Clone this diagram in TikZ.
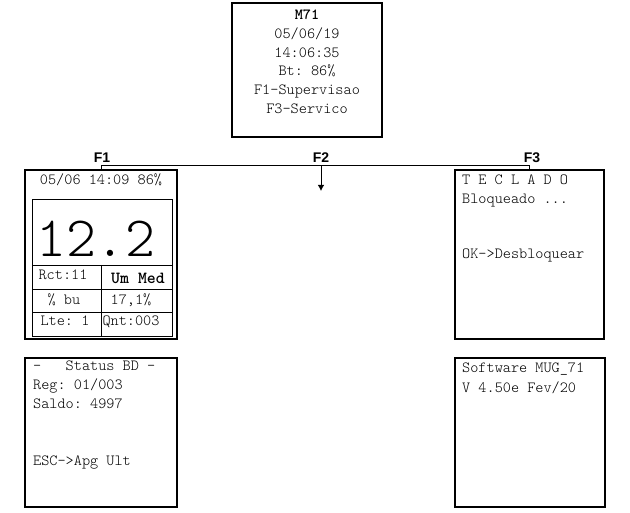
\documentclass[tikz,border=0pt]{standalone}
\usepackage{fontspec}
\setmainfont{Liberation Serif}
\setmonofont{Latin Modern Mono Light}
\setsansfont{Liberation Sans}
\usetikzlibrary{arrows.meta}
\begin{document}
\begin{tikzpicture}[x=1pt,y=-1pt,
  box/.style={draw,line width=1.2pt,inner sep=0,outer sep=0},
  thin/.style={line width=0.9pt},
  tt/.style={inner sep=0,anchor=base,font=\ttfamily\fontsize{15.5}{16}\selectfont},
  ttl/.style={tt,anchor=base west},
  ttb/.style={tt,font=\ttfamily\bfseries\fontsize{15.5}{16}\selectfont},
  ttbig/.style={tt,font=\ttfamily\bfseries\fontsize{17}{18}\selectfont},
  big/.style={inner sep=0,anchor=base,font=\ttfamily\fontsize{57}{57}\selectfont},
  key/.style={inner sep=0,font=\sffamily\bfseries\fontsize{14}{16}\selectfont},
  conn/.style={line width=0.9pt}]
\useasboundingbox (0,0) rectangle (630,513);

% boxes
\node[box,minimum width=150,minimum height=134] (m71) at (307,70) {};
\node[box,minimum width=152,minimum height=169] (f1) at (101,254.5) {};
\node[box,minimum width=149,minimum height=169] (f3) at (529.5,254.5) {};
\node[box,minimum width=152,minimum height=149] (bd) at (101,432.5) {};
\node[box,minimum width=150,minimum height=149] (sw) at (530,432.5) {};
\node[draw,thin,inner sep=0,outer sep=0,minimum width=140,minimum height=137] (inner) at (102,267.5) {};

% inner grid
\draw[thin] (32,265) -- (172,265);
\draw[thin] (32,289) -- (172,289);
\draw[thin] (32,312) -- (172,312);
\draw[thin] (101,265) -- (101,336);

% top box text
\node[ttb] (t1) at (307,19.5) {M71};
\node[tt] (t2) at (307,38.5) {05/06/19};
\node[tt] (t3) at (307,57.5) {14:06:35};
\node[tt] (t4) at (307,76) {Bt: 86\%};
\node[tt] (t5) at (307,94.5) {F1-Supervisao};
\node[tt] (t6) at (307,113.5) {F3-Servico};

% F1 box
\node[tt] (h1) at (101,184.5) {05/06 14:09 86\%};
\node[big] (num) at (96,257) {12.2};
\node[tt] (c11) at (63,280) {Rct:11};
\node[ttbig] (c12) at (138,284) {Um Med};
\node[tt] (c21) at (64,305) {\% bu};
\node[tt] (c22) at (131,305) {17,1\%};
\node[tt] (c31) at (65,326) {Lte: 1};
\node[tt] (c32) at (131,326) {Qnt:003};

% F3 box
\node[ttl] (k1) at (462,185) {T E C L A D O};
\node[ttl] (k2) at (462,203.5) {Bloqueado ...};
\node[ttl] (k3) at (462,259) {OK->Desbloquear};

% status box
\node[ttl] (s1) at (33,371) {-\ \ \ Status BD -};
\node[ttl] (s2) at (33,390) {Reg: 01/003};
\node[ttl] (s3) at (33,409) {Saldo: 4997};
\node[ttl] (s4) at (33,465) {ESC->Apg Ult};

% software box
\node[ttl] (w1) at (462,373) {Software MUG\_71};
\node[ttl] (w2) at (462,392) {V 4.50e Fev/20};

% connectors
\coordinate (j1) at (101,165.5);
\coordinate (f2a) at (321,165.5);
\coordinate (f2b) at (321,191);
\draw[conn] (f1.north) -- (j1) -| (f3.north);
\draw[conn,-{Latex[length=6pt,width=6.5pt]}] (f2a) -- (f2b);

% labels
\node[key] (lf1) at (102,158) {F1};
\node[key] (lf2) at (321,157.5) {F2};
\node[key] (lf3) at (532,158) {F3};
\end{tikzpicture}
\end{document}
